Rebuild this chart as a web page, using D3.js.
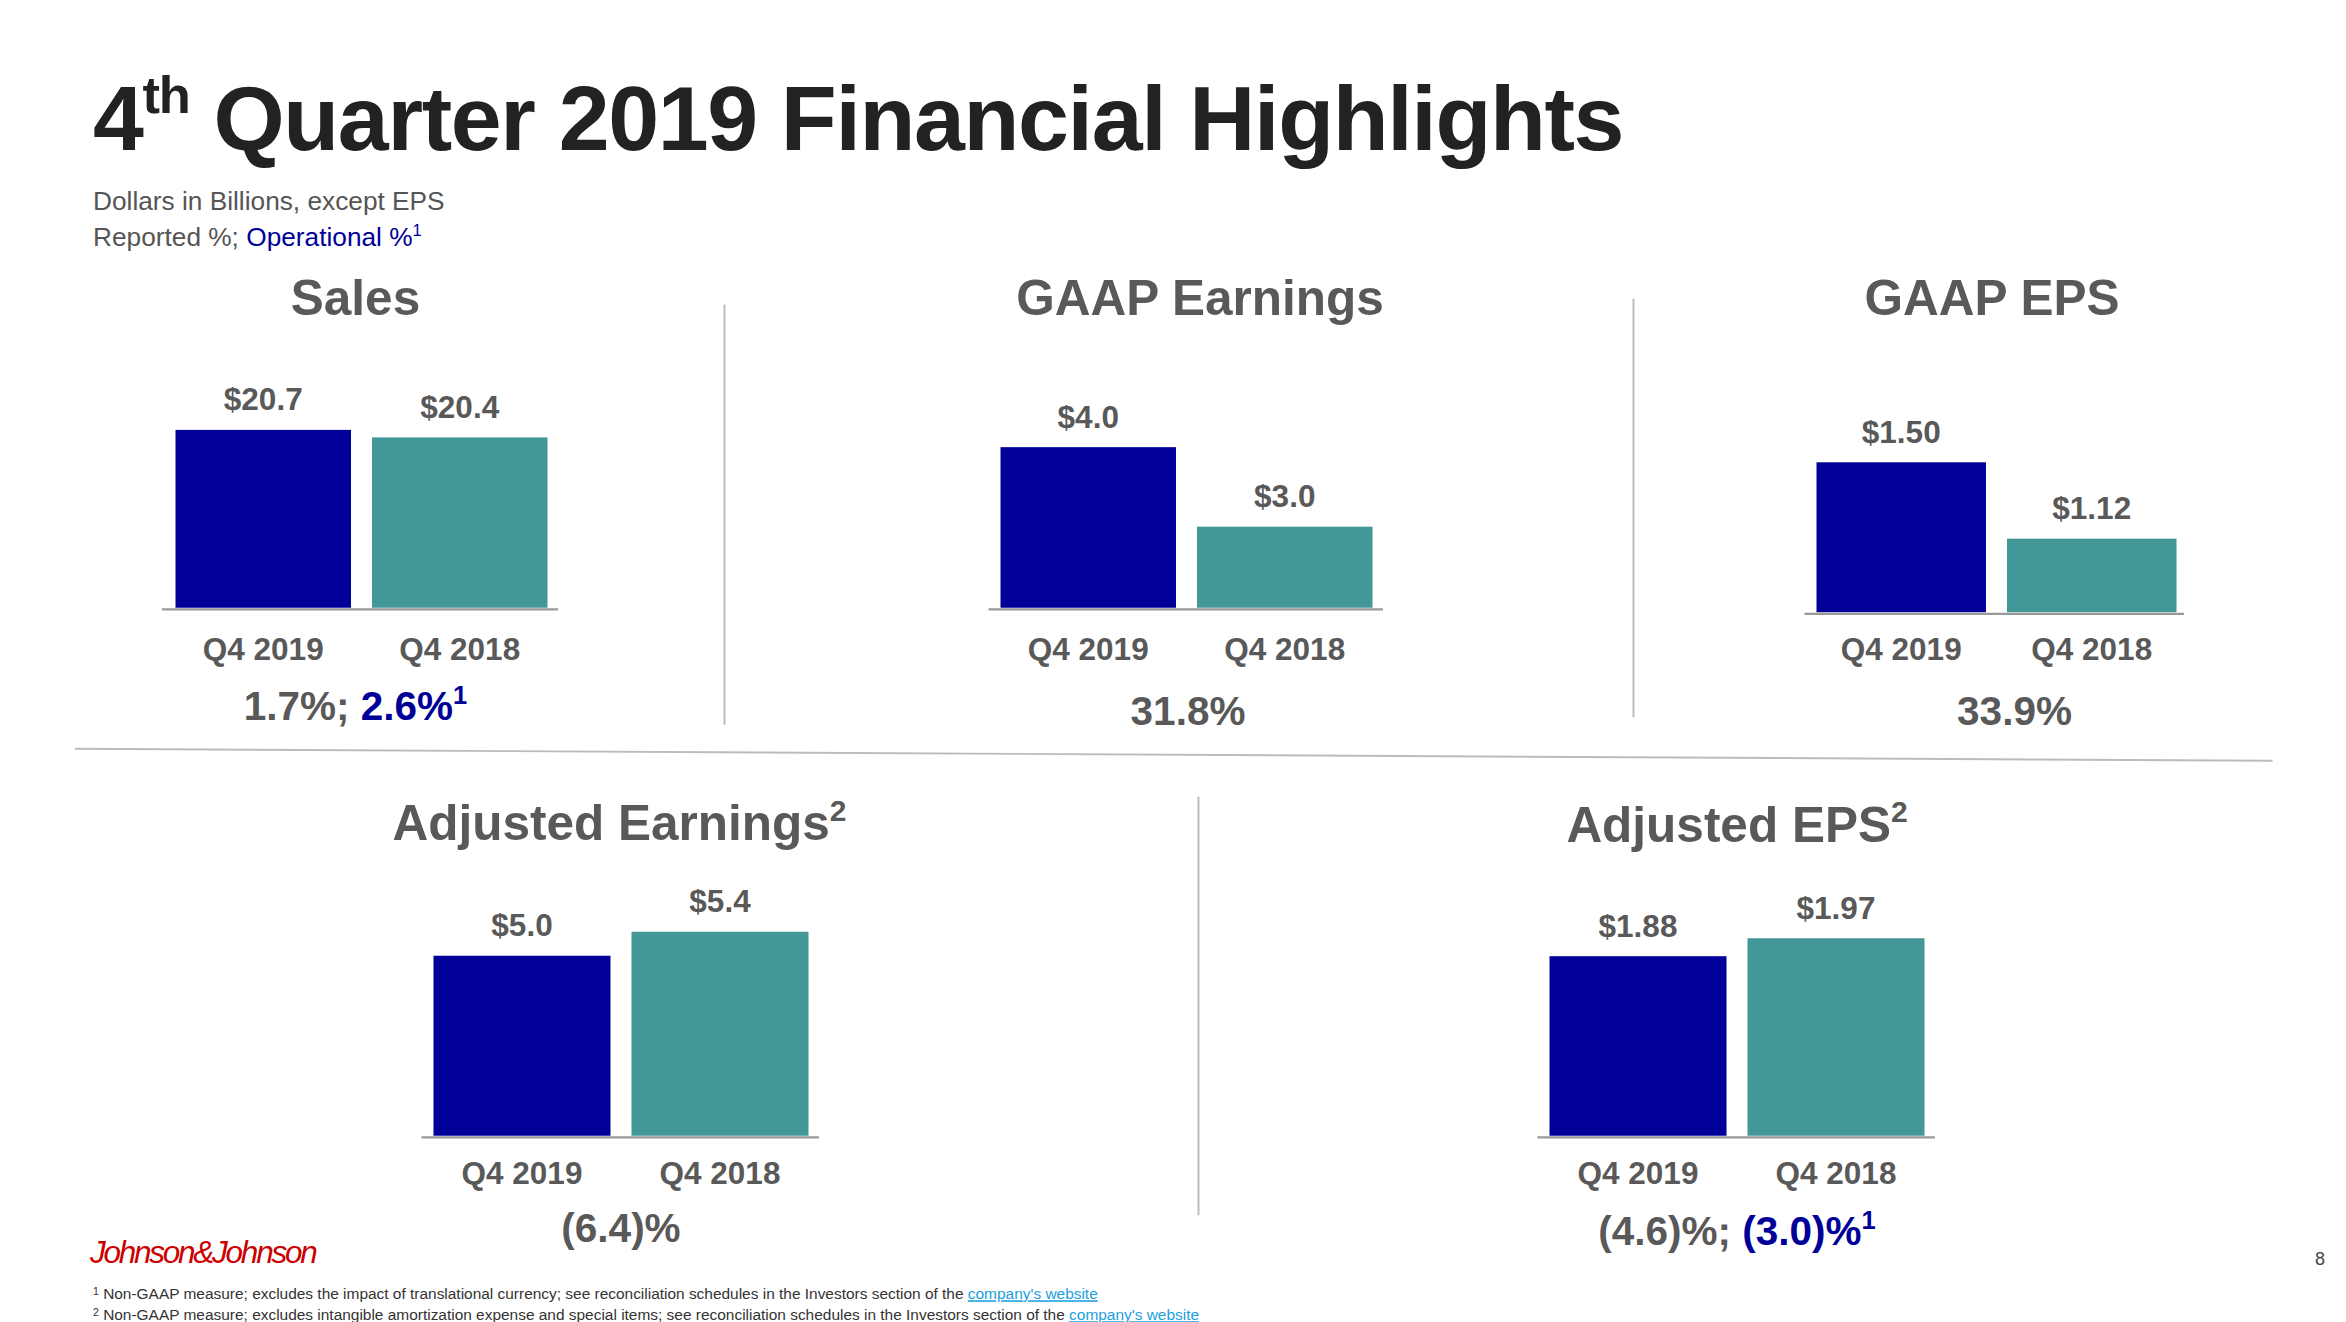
<!DOCTYPE html>
<html><head><meta charset="utf-8">
<script src="https://cdn.jsdelivr.net/npm/d3@7"></script>
<style>body{margin:0;background:#fff}svg{display:block}text{font-family:"Liberation Sans",Arial,sans-serif}</style>
</head><body><svg id="c" width="2346" height="1322" viewBox="0 0 1564 881"></svg>
<script>
const categories = ["Q4 2019","Q4 2018"];
const panelTitles = ["Sales","GAAP Earnings","GAAP EPS","Adjusted Earnings","Adjusted EPS"];
const salesValues = [20.7, 20.4];
const gaapEarningsValues = [4.0, 3.0];
const gaapEpsValues = [1.50, 1.12];
const adjEarningsValues = [5.0, 5.4];
const adjEpsValues = [1.88, 1.97];
const valueLabels = [["$20.7","$20.4"],["$4.0","$3.0"],["$1.50","$1.12"],["$5.0","$5.4"],["$1.88","$1.97"]];
const growth = [["1.7%; ","2.6%"],["31.8%",null],["33.9%",null],["(6.4)%",null],["(4.6)%; ","(3.0)%"]];
const navy="#000099", teal="#439797", gray="#595959";
const svg=d3.select("#c");
svg.append("text").attr("x",62).attr("y",100).attr("font-size",61).attr("font-weight","bold").attr("fill","#222").attr("letter-spacing",-0.9)
 .call(t=>{t.append("tspan").text("4");t.append("tspan").attr("font-size",35).attr("dy",-25).text("th");t.append("tspan").attr("dy",25).text(" Quarter 2019 Financial Highlights");});
svg.append("text").attr("x",62).attr("y",140).attr("font-size",17.5).attr("fill","#555").text("Dollars in Billions, except EPS");
svg.append("text").attr("x",62).attr("y",164).attr("font-size",17.5).attr("fill","#555").call(t=>{t.append("tspan").text("Reported %; ");t.append("tspan").attr("fill",navy).text("Operational %");t.append("tspan").attr("fill",navy).attr("font-size",11).attr("dy",-7).text("1");});
const panels=[
 {vals:salesValues, x0:108,x1:372,base:405,bw:117,gap:14,bx:117,tx:237,ty:210,min:13.6,ppu:16.7,catY:440,gx:237,gy:480,sup:false},
 {vals:gaapEarningsValues,x0:659,x1:922,base:405,bw:117,gap:14,bx:667,tx:800,ty:210,min:1.98,ppu:53,catY:440,gx:792,gy:483,sup:false},
 {vals:gaapEpsValues,x0:1203,x1:1456,base:408,bw:113,gap:14,bx:1211,tx:1328,ty:210,min:0.754,ppu:134,catY:440,gx:1343,gy:483,sup:false},
 {vals:adjEarningsValues,x0:281,x1:546,base:757,bw:118,gap:14,bx:289,tx:413,ty:560,min:2.0,ppu:40,catY:789,gx:414,gy:828,sup:true},
 {vals:adjEpsValues,x0:1025,x1:1290,base:757,bw:118,gap:14,bx:1033,tx:1158,ty:561,min:0.98,ppu:133,catY:789,gx:1158,gy:830,sup:true}
];
panels.forEach((p,i)=>{
 const x=d3.scaleBand().domain(categories).range([p.bx,p.bx+2*p.bw+p.gap]).paddingInner(p.gap/(p.bw+p.gap));
 const maxV=d3.max(p.vals);
 const y=d3.scaleLinear().domain([p.min,maxV]).range([p.base,p.base-(maxV-p.min)*p.ppu]);
 const g=svg.append("g");
 const tt=g.append("text").attr("x",p.tx).attr("y",p.ty).attr("text-anchor","middle").attr("font-size",33).attr("font-weight","bold").attr("fill",gray).text(panelTitles[i]);
 if(p.sup) tt.append("tspan").attr("font-size",20).attr("dy",-13).text("2");
 g.selectAll("rect").data(p.vals).join("rect").attr("x",(d,j)=>x(categories[j])).attr("width",x.bandwidth())
  .attr("y",d=>y(d)).attr("height",d=>p.base-y(d)).attr("fill",(d,j)=>j?teal:navy);
 g.append("line").attr("x1",p.x0).attr("x2",p.x1).attr("y1",p.base+1).attr("y2",p.base+1).attr("stroke","#999").attr("stroke-width",1.5);
 g.selectAll(".v").data(p.vals).join("text").attr("x",(d,j)=>x(categories[j])+x.bandwidth()/2).attr("y",d=>y(d)-13)
  .attr("text-anchor","middle").attr("font-size",21).attr("font-weight","bold").attr("fill",gray).text((d,j)=>valueLabels[i][j]);
 g.selectAll(".c").data(categories).join("text").attr("x",d=>x(d)+x.bandwidth()/2).attr("y",p.catY)
  .attr("text-anchor","middle").attr("font-size",21).attr("font-weight","bold").attr("fill",gray).text(d=>d);
 const gt=g.append("text").attr("x",p.gx).attr("y",p.gy).attr("text-anchor","middle").attr("font-size",27).attr("font-weight","bold").attr("fill",gray);
 gt.append("tspan").text(growth[i][0]);
 if(growth[i][1]){gt.append("tspan").attr("fill",navy).text(growth[i][1]);gt.append("tspan").attr("fill",navy).attr("font-size",17).attr("dy",-11).text("1");}
});
const ln=(a,b,c,d)=>svg.append("line").attr("x1",a).attr("y1",b).attr("x2",c).attr("y2",d).attr("stroke","#bbb").attr("stroke-width",1.3);
ln(483,203,483,483);ln(1089,199,1089,478);ln(50,499,1515,507);ln(799,531,799,810);
svg.append("text").attr("x",60).attr("y",842).attr("font-size",21).attr("font-style","italic").attr("font-family","DejaVu Serif").attr("fill","#cc0000").attr("letter-spacing",-1.5).text("Johnson&Johnson");
svg.append("text").attr("x",1550).attr("y",843).attr("text-anchor","end").attr("font-size",12).attr("fill","#444").text("8");
const fn=[["Non-GAAP measure; excludes the impact of translational currency; see reconciliation schedules in the Investors section of the ",866,"1"],["Non-GAAP measure; excludes intangible amortization expense and special items; see reconciliation schedules in the Investors section of the ",880,"2"]];
fn.forEach(f=>{const t=svg.append("text").attr("x",62).attr("y",f[1]).attr("font-size",10.3).attr("fill","#333");
 t.append("tspan").attr("font-size",7).attr("dy",-3).text(f[2]);t.append("tspan").attr("dy",3).text(" "+f[0]);
 t.append("tspan").attr("fill","#1a9fe0").attr("text-decoration","underline").text("company's website");});
</script></body></html>
